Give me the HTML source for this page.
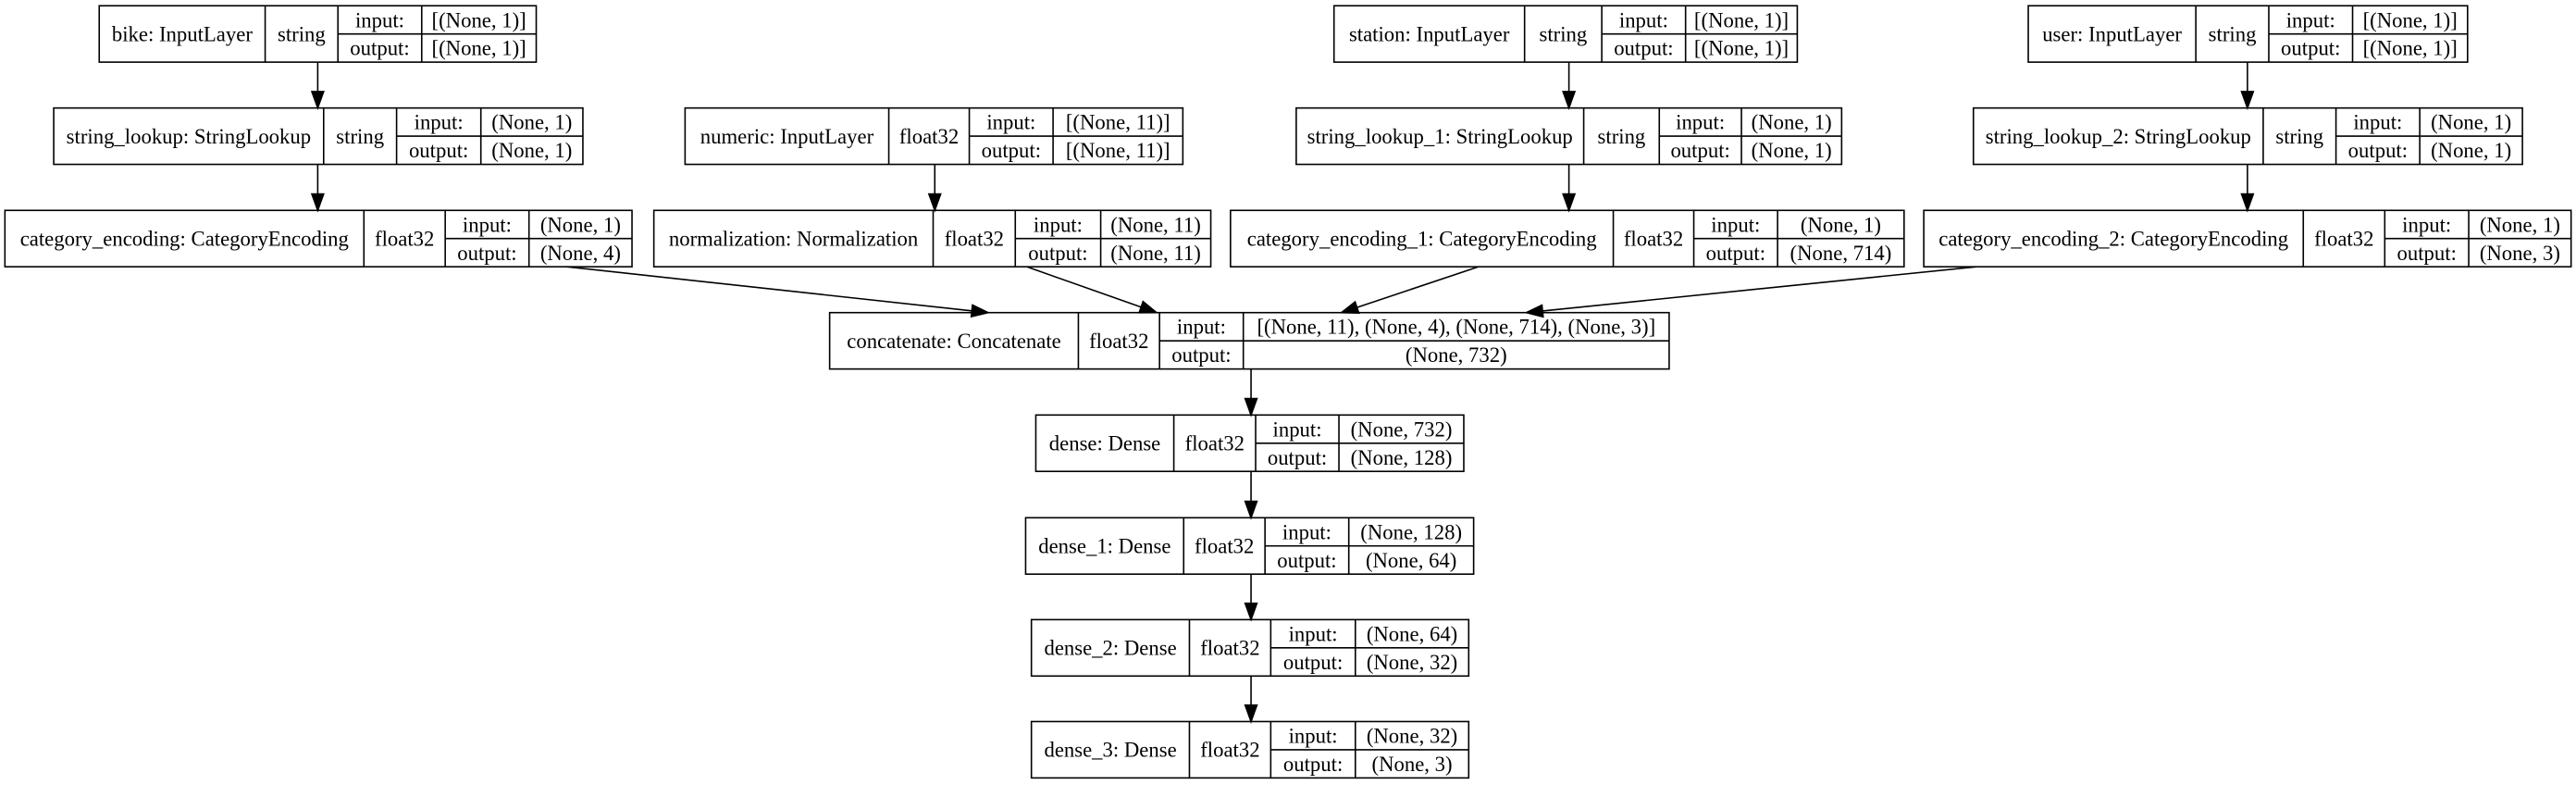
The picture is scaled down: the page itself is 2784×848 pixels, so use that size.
<!DOCTYPE html>
<html><head><meta charset="utf-8"><style>
html,body{margin:0;padding:0;background:#fff;}
svg{display:block;}
text{font-family:"Liberation Serif","DejaVu Serif",serif;font-size:12.8px;fill:#000;}
</style></head><body>
<svg id="s" xmlns="http://www.w3.org/2000/svg" width="2784" height="848" viewBox="0 0 1568 477.6" preserveAspectRatio="none">
<rect x="0" y="0" width="1568" height="477.6" fill="#fff"/>
</svg>
<script>
var NS="http://www.w3.org/2000/svg",s=document.getElementById('s');
function el(t,a,txt){var e=document.createElementNS(NS,t);for(var k in a)e.setAttribute(k,a[k]);if(txt!=null)e.textContent=txt;s.appendChild(e);return e;}
var H=34.3;
var B=[
[60.4,161.4,205.7,256.7,326.4,3.5,"bike: InputLayer","string","[(None, 1)]","[(None, 1)]"],
[812,928,975,1026,1094,3.5,"station: InputLayer","string","[(None, 1)]","[(None, 1)]"],
[1234.6,1336.6,1381,1432,1502,3.5,"user: InputLayer","string","[(None, 1)]","[(None, 1)]"],
[32.7,197,241.4,292.7,354.8,65.7,"string_lookup: StringLookup","string","(None, 1)","(None, 1)"],
[417,541,590,641,720,65.7,"numeric: InputLayer","float32","[(None, 11)]","[(None, 11)]"],
[789,964,1010,1060,1121,65.7,"string_lookup_1: StringLookup","string","(None, 1)","(None, 1)"],
[1201.2,1377.6,1421.9,1472.9,1535.4,65.7,"string_lookup_2: StringLookup","string","(None, 1)","(None, 1)"],
[3,221.5,271,322,384.7,128,"category_encoding: CategoryEncoding","float32","(None, 1)","(None, 4)"],
[398,568,618,670,737,128,"normalization: Normalization","float32","(None, 11)","(None, 11)"],
[749,982,1031,1082,1159,128,"category_encoding_1: CategoryEncoding","float32","(None, 1)","(None, 714)"],
[1171,1402,1451.6,1502.7,1565,128,"category_encoding_2: CategoryEncoding","float32","(None, 1)","(None, 3)"],
[505,656.4,705.8,756.8,1016,190.2,"concatenate: Concatenate","float32","[(None, 11), (None, 4), (None, 714), (None, 3)]","(None, 732)"],
[630.5,714.5,764.3,815,891,252.5,"dense: Dense","float32","(None, 732)","(None, 128)"],
[624.3,720.5,770,821,897,315,"dense_1: Dense","float32","(None, 128)","(None, 64)"],
[627.8,724,773.5,825,894,377,"dense_2: Dense","float32","(None, 64)","(None, 32)"],
[627.8,724,773.5,825,894,439,"dense_3: Dense","float32","(None, 32)","(None, 3)"]
];
function ln(x1,y1,x2,y2){el('line',{x1:x1,y1:y1,x2:x2,y2:y2,stroke:"#000","stroke-width":"0.9"});}
function tx(x,y,t){el('text',{x:x,y:y,"text-anchor":"middle"},t);}
var o=4.4;
B.forEach(function(b){
 var y=b[5],m=y+H/2;
 el('rect',{x:b[0],y:y,width:b[4]-b[0],height:H,stroke:"#000","stroke-width":"0.9",fill:"none"});
 ln(b[1],y,b[1],y+H);ln(b[2],y,b[2],y+H);ln(b[3],y,b[3],y+H);ln(b[2],m,b[4],m);
 tx((b[0]+b[1])/2,m+o,b[6]);
 tx((b[1]+b[2])/2,m+o,b[7]);
 tx((b[2]+b[3])/2,y+H/4+o,"input:");
 tx((b[2]+b[3])/2,y+3*H/4+o,"output:");
 tx((b[3]+b[4])/2,y+H/4+o,b[8]);
 tx((b[3]+b[4])/2,y+3*H/4+o,b[9]);
});
function arrow(x1,y1,x2,y2){
 var dx=x2-x1,dy=y2-y1,L=Math.sqrt(dx*dx+dy*dy),ux=dx/L,uy=dy/L,al=10,aw=3.6;
 var bx=x2-ux*al,by=y2-uy*al;
 ln(x1,y1,bx,by);
 el('polygon',{points:x2+","+y2+" "+(bx-uy*aw)+","+(by+ux*aw)+" "+(bx+uy*aw)+","+(by-ux*aw),fill:"#000",stroke:"#000","stroke-width":"0.9"});
}
arrow(193.4,37.8,193.4,65.7);arrow(193.4,100,193.4,128);
arrow(955,37.8,955,65.7);arrow(955,100,955,128);
arrow(1368,37.8,1368,65.7);arrow(1368,100,1368,128);
arrow(569,100,569,128);
arrow(345,162.3,601.5,190.2);
arrow(625,162.3,704,190.2);
arrow(900,162.3,816.5,190.2);
arrow(1203,162.3,929,190.2);
arrow(761.5,224.5,761.5,252.5);
arrow(761.5,286.8,761.5,315);
arrow(761.5,349.3,761.5,377);
arrow(761.5,411.3,761.5,439);
</script>
</body></html>
